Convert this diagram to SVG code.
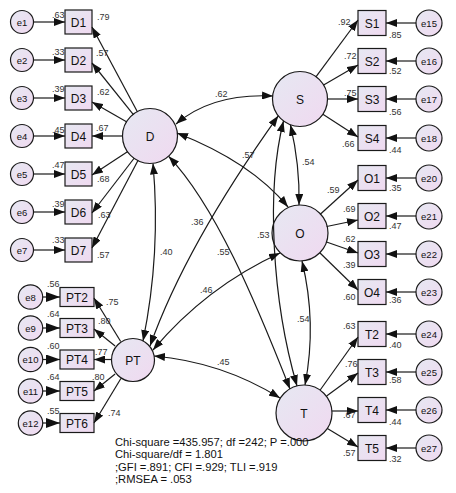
<svg xmlns="http://www.w3.org/2000/svg" width="456" height="493" viewBox="0 0 456 493">
<defs>
<linearGradient id="g" x1="0" y1="0" x2="1" y2="1">
<stop offset="0" stop-color="#e6e8f2"/>
<stop offset="1" stop-color="#f0d9f0"/>
</linearGradient>
<marker id="ah" viewBox="0 0 11 8" refX="11" refY="4" markerWidth="11" markerHeight="8" markerUnits="userSpaceOnUse" orient="auto-start-reverse">
<path d="M0,0 L11,4 L0,8 z" fill="#111"/>
</marker>
<marker id="ahb" viewBox="0 0 14 10" refX="14" refY="5" markerWidth="14" markerHeight="10" markerUnits="userSpaceOnUse" orient="auto">
<path d="M0,0 L14,5 L0,10 z" fill="#111"/>
</marker>
</defs>
<style>
.n{fill:url(#g);stroke:#1a1a1a;stroke-width:1.2}
.t{font-family:"Liberation Sans",Arial,sans-serif;fill:#111;text-anchor:middle}
.lat{font-size:12px}
.obs{font-size:12px}
.err{font-size:9.5px}
.v{font-family:"Liberation Sans",Arial,sans-serif;font-size:9px;fill:#333}
.a{fill:none;stroke:#1a1a1a;stroke-width:1.2;marker-end:url(#ah)}
.ab{fill:none;stroke:#1a1a1a;stroke-width:1.2;marker-end:url(#ahb)}
.c{fill:none;stroke:#1a1a1a;stroke-width:1.2;marker-start:url(#ah);marker-end:url(#ah)}
.fit{font-family:"Liberation Sans",Arial,sans-serif;font-size:11.2px;fill:#111}
</style>
<rect width="456" height="493" fill="#fff"/>

<!-- D indicators -->
<g id="e1"><circle class="n" cx="22" cy="22" r="11.5"/><text class="t err" x="22" y="25.5">e1</text></g>
<g id="e2"><circle class="n" cx="22" cy="60" r="11.5"/><text class="t err" x="22" y="63.5">e2</text></g>
<g id="e3"><circle class="n" cx="22" cy="98" r="11.5"/><text class="t err" x="22" y="101.5">e3</text></g>
<g id="e4"><circle class="n" cx="22" cy="136" r="11.5"/><text class="t err" x="22" y="139.5">e4</text></g>
<g id="e5"><circle class="n" cx="22" cy="174" r="11.5"/><text class="t err" x="22" y="177.5">e5</text></g>
<g id="e6"><circle class="n" cx="22" cy="212" r="11.5"/><text class="t err" x="22" y="215.5">e6</text></g>
<g id="e7"><circle class="n" cx="22" cy="250" r="11.5"/><text class="t err" x="22" y="253.5">e7</text></g>

<g id="D1"><rect class="n" x="65" y="10" width="27" height="24"/><text class="t obs" x="78.5" y="26.5">D1</text></g>
<g id="D2"><rect class="n" x="65" y="48" width="27" height="24"/><text class="t obs" x="78.5" y="64.5">D2</text></g>
<g id="D3"><rect class="n" x="65" y="86" width="27" height="24"/><text class="t obs" x="78.5" y="102.5">D3</text></g>
<g id="D4"><rect class="n" x="65" y="124" width="27" height="24"/><text class="t obs" x="78.5" y="140.5">D4</text></g>
<g id="D5"><rect class="n" x="65" y="162" width="27" height="24"/><text class="t obs" x="78.5" y="178.5">D5</text></g>
<g id="D6"><rect class="n" x="65" y="200" width="27" height="24"/><text class="t obs" x="78.5" y="216.5">D6</text></g>
<g id="D7"><rect class="n" x="65" y="238" width="27" height="24"/><text class="t obs" x="78.5" y="254.5">D7</text></g>

<!-- PT indicators -->
<g id="e8"><circle class="n" cx="30.5" cy="297" r="12.2"/><text class="t err" x="30.5" y="300.5">e8</text></g>
<g id="e9"><circle class="n" cx="30.5" cy="328" r="12.2"/><text class="t err" x="30.5" y="331.5">e9</text></g>
<g id="e10"><circle class="n" cx="30.5" cy="359.5" r="12.2"/><text class="t err" x="30.5" y="363">e10</text></g>
<g id="e11"><circle class="n" cx="30.5" cy="391" r="12.2"/><text class="t err" x="30.5" y="394.5">e11</text></g>
<g id="e12"><circle class="n" cx="30.5" cy="423" r="12.2"/><text class="t err" x="30.5" y="426.5">e12</text></g>

<g id="PT2"><rect class="n" x="60" y="287.5" width="34" height="19"/><text class="t obs" x="77" y="301.5">PT2</text></g>
<g id="PT3"><rect class="n" x="60" y="318.5" width="34" height="19"/><text class="t obs" x="77" y="332.5">PT3</text></g>
<g id="PT4"><rect class="n" x="60" y="350" width="34" height="19"/><text class="t obs" x="77" y="364">PT4</text></g>
<g id="PT5"><rect class="n" x="60" y="381.5" width="34" height="19"/><text class="t obs" x="77" y="395.5">PT5</text></g>
<g id="PT6"><rect class="n" x="60" y="413.5" width="34" height="19"/><text class="t obs" x="77" y="427.5">PT6</text></g>

<!-- Latent -->
<g id="D"><circle class="n" cx="150" cy="136" r="27.5"/><text class="t lat" x="150" y="140.5">D</text></g>
<g id="PT"><circle class="n" cx="133" cy="360" r="21.5"/><text class="t lat" x="133" y="364.5">PT</text></g>
<g id="S"><circle class="n" cx="300" cy="99" r="27.5"/><text class="t lat" x="300" y="103.5">S</text></g>
<g id="O"><circle class="n" cx="300" cy="233" r="28"/><text class="t lat" x="300" y="237.5">O</text></g>
<g id="T"><circle class="n" cx="304" cy="413" r="28"/><text class="t lat" x="304" y="417.5">T</text></g>

<!-- Right indicators -->
<g id="S1"><rect class="n" x="358" y="10.5" width="28" height="25"/><text class="t obs" x="372" y="27.5">S1</text></g>
<g id="S2"><rect class="n" x="358" y="48.5" width="28" height="25"/><text class="t obs" x="372" y="65.5">S2</text></g>
<g id="S3"><rect class="n" x="358" y="86.5" width="28" height="25"/><text class="t obs" x="372" y="103.5">S3</text></g>
<g id="S4"><rect class="n" x="358" y="125.5" width="28" height="25"/><text class="t obs" x="372" y="142.5">S4</text></g>
<g id="O1"><rect class="n" x="358" y="165.5" width="28" height="25"/><text class="t obs" x="372" y="182.5">O1</text></g>
<g id="O2"><rect class="n" x="358" y="203.5" width="28" height="25"/><text class="t obs" x="372" y="220.5">O2</text></g>
<g id="O3"><rect class="n" x="358" y="241.5" width="28" height="25"/><text class="t obs" x="372" y="258.5">O3</text></g>
<g id="O4"><rect class="n" x="358" y="279.5" width="28" height="25"/><text class="t obs" x="372" y="296.5">O4</text></g>
<g id="T2"><rect class="n" x="358" y="321.5" width="28" height="25"/><text class="t obs" x="372" y="338.5">T2</text></g>
<g id="T3"><rect class="n" x="358" y="359.5" width="28" height="25"/><text class="t obs" x="372" y="376.5">T3</text></g>
<g id="T4"><rect class="n" x="358" y="397.5" width="28" height="25"/><text class="t obs" x="372" y="414.5">T4</text></g>
<g id="T5"><rect class="n" x="358" y="435.5" width="28" height="25"/><text class="t obs" x="372" y="452.5">T5</text></g>

<g id="e15"><circle class="n" cx="429" cy="23" r="13"/><text class="t err" x="429" y="26.5">e15</text></g>
<g id="e16"><circle class="n" cx="429" cy="61" r="13"/><text class="t err" x="429" y="64.5">e16</text></g>
<g id="e17"><circle class="n" cx="429" cy="99" r="13"/><text class="t err" x="429" y="102.5">e17</text></g>
<g id="e18"><circle class="n" cx="429" cy="138" r="13"/><text class="t err" x="429" y="141.5">e18</text></g>
<g id="e20"><circle class="n" cx="429" cy="178" r="13"/><text class="t err" x="429" y="181.5">e20</text></g>
<g id="e21"><circle class="n" cx="429" cy="216" r="13"/><text class="t err" x="429" y="219.5">e21</text></g>
<g id="e22"><circle class="n" cx="429" cy="254" r="13"/><text class="t err" x="429" y="257.5">e22</text></g>
<g id="e23"><circle class="n" cx="429" cy="292" r="13"/><text class="t err" x="429" y="295.5">e23</text></g>
<g id="e24"><circle class="n" cx="429" cy="334" r="13"/><text class="t err" x="429" y="337.5">e24</text></g>
<g id="e25"><circle class="n" cx="429" cy="372" r="13"/><text class="t err" x="429" y="375.5">e25</text></g>
<g id="e26"><circle class="n" cx="429" cy="410" r="13"/><text class="t err" x="429" y="413.5">e26</text></g>
<g id="e27"><circle class="n" cx="429" cy="448" r="13"/><text class="t err" x="429" y="451.5">e27</text></g>

<g id="connectors">
<!-- error arrows left -->
<path class="a" d="M33.5,22 H65"/>
<path class="a" d="M33.5,60 H65"/>
<path class="a" d="M33.5,98 H65"/>
<path class="a" d="M33.5,136 H65"/>
<path class="a" d="M33.5,174 H65"/>
<path class="a" d="M33.5,212 H65"/>
<path class="a" d="M33.5,250 H65"/>
<path class="ab" d="M42.7,297 H60"/>
<path class="ab" d="M42.7,328 H60"/>
<path class="ab" d="M42.7,359.5 H60"/>
<path class="ab" d="M42.7,391 H60"/>
<path class="ab" d="M42.7,423 H60"/>
<!-- D loadings -->
<path class="a" d="M137.5,112 L92,27"/>
<path class="a" d="M133.4,114.7 L92,63"/>
<path class="a" d="M126.9,122 L92,102"/>
<path class="a" d="M122.5,136 L92,136"/>
<path class="a" d="M127.8,151.4 L92,175"/>
<path class="a" d="M134.3,158 L92,213"/>
<path class="a" d="M138.1,160.2 L92,248"/>
<!-- PT loadings -->
<path class="a" d="M120.7,341.5 L94,298"/>
<path class="a" d="M115.1,346 L94,329"/>
<path class="a" d="M111.5,359.5 L94,359.5"/>
<path class="a" d="M115.1,374 L94,391"/>
<path class="a" d="M120.9,378.5 L94,423"/>
<!-- S loadings -->
<path class="a" d="M316.1,76.7 L358,20"/>
<path class="a" d="M323.6,84.9 L358,65"/>
<path class="a" d="M327.5,99 L358,99"/>
<path class="a" d="M322.9,114.3 L358,137"/>
<!-- O loadings -->
<path class="a" d="M320,214.5 L358,180"/>
<path class="a" d="M326.7,226.5 L358,220"/>
<path class="a" d="M326.5,242 L358,253"/>
<path class="a" d="M319.8,252.8 L358,290"/>
<!-- T loadings -->
<path class="a" d="M320.2,390 L358,337"/>
<path class="a" d="M326.6,396 L358,373"/>
<path class="a" d="M332,411 L358,411"/>
<path class="a" d="M327.4,428.4 L358,447"/>
<!-- error arrows right -->
<path class="a" d="M416,23 H386"/>
<path class="a" d="M416,61 H386"/>
<path class="a" d="M416,99 H386"/>
<path class="a" d="M416,138 H386"/>
<path class="a" d="M416,178 H386"/>
<path class="a" d="M416,216 H386"/>
<path class="a" d="M416,254 H386"/>
<path class="a" d="M416,292 H386"/>
<path class="a" d="M416,334 H386"/>
<path class="a" d="M416,372 H386"/>
<path class="a" d="M416,410 H386"/>
<path class="a" d="M416,448 H386"/>
<!-- covariances -->
<path class="c" d="M176,124 Q212,93 273,96"/>
<path class="c" d="M177,133 Q251,162 288,207"/>
<path class="c" d="M153,163.5 Q161,253 143,341"/>
<path class="c" d="M168.6,156.3 C215,205 255,300 290,389"/>
<path class="c" d="M150,346 Q186,245 278.3,115.8"/>
<path class="c" d="M283.5,121 C266,190 272,300 297,386"/>
<path class="c" d="M290.4,124.8 Q300,165 299,205"/>
<path class="c" d="M153,350 Q206,287 280,253"/>
<path class="c" d="M302,261 Q317,323 305,385"/>
<path class="c" d="M154,356 Q222,362 280,398"/>
</g>

<g id="values">
<text class="v" x="52" y="18">.63</text>
<text class="v" x="52" y="55">.33</text>
<text class="v" x="52" y="92">.39</text>
<text class="v" x="52" y="133">.45</text>
<text class="v" x="52" y="168">.47</text>
<text class="v" x="52" y="207">.39</text>
<text class="v" x="52" y="243">.33</text>
<text class="v" x="97" y="20">.79</text>
<text class="v" x="96" y="56">.57</text>
<text class="v" x="97" y="95">.62</text>
<text class="v" x="96" y="131">.67</text>
<text class="v" x="97" y="182">.68</text>
<text class="v" x="98" y="218">.63</text>
<text class="v" x="97" y="258">.57</text>

<text class="v" x="47" y="287">.56</text>
<text class="v" x="47" y="317">.64</text>
<text class="v" x="47" y="349">.60</text>
<text class="v" x="47" y="380">.64</text>
<text class="v" x="47" y="414">.55</text>
<text class="v" x="106" y="305">.75</text>
<text class="v" x="98" y="324">.80</text>
<text class="v" x="95" y="355">.77</text>
<text class="v" x="92" y="380">.80</text>
<text class="v" x="108" y="416">.74</text>

<text class="v" x="338" y="25">.92</text>
<text class="v" x="389" y="38">.85</text>
<text class="v" x="344" y="59">.72</text>
<text class="v" x="389" y="74">.52</text>
<text class="v" x="344" y="96">.75</text>
<text class="v" x="389" y="115">.56</text>
<text class="v" x="342" y="147">.66</text>
<text class="v" x="389" y="153">.44</text>
<text class="v" x="327" y="193">.59</text>
<text class="v" x="389" y="191">.35</text>
<text class="v" x="343" y="212">.69</text>
<text class="v" x="389" y="229">.47</text>
<text class="v" x="343" y="242">.62</text>
<text class="v" x="343" y="268">.39</text>
<text class="v" x="343" y="300">.60</text>
<text class="v" x="389" y="303">.36</text>
<text class="v" x="343" y="329">.63</text>
<text class="v" x="389" y="348">.40</text>
<text class="v" x="345" y="367">.76</text>
<text class="v" x="389" y="383">.58</text>
<text class="v" x="343" y="418">.67</text>
<text class="v" x="389" y="425">.44</text>
<text class="v" x="343" y="456">.57</text>
<text class="v" x="389" y="462">.32</text>

<text class="v" x="215" y="97">.62</text>
<text class="v" x="242" y="158">.57</text>
<text class="v" x="191" y="225">.36</text>
<text class="v" x="160" y="255">.40</text>
<text class="v" x="217" y="255">.55</text>
<text class="v" x="257" y="238">.53</text>
<text class="v" x="302" y="165">.54</text>
<text class="v" x="200" y="293">.46</text>
<text class="v" x="297" y="322">.54</text>
<text class="v" x="217" y="365">.45</text>
</g>

<g id="fit">
<text class="fit" x="115" y="445.5">Chi-square =435.957; df =242; P =.000</text>
<text class="fit" x="115" y="458">Chi-square/df = 1.801</text>
<text class="fit" x="115" y="470.5">;GFI =.891; CFI =.929; TLI =.919</text>
<text class="fit" x="115" y="483">;RMSEA = .053</text>
</g>
</svg>
